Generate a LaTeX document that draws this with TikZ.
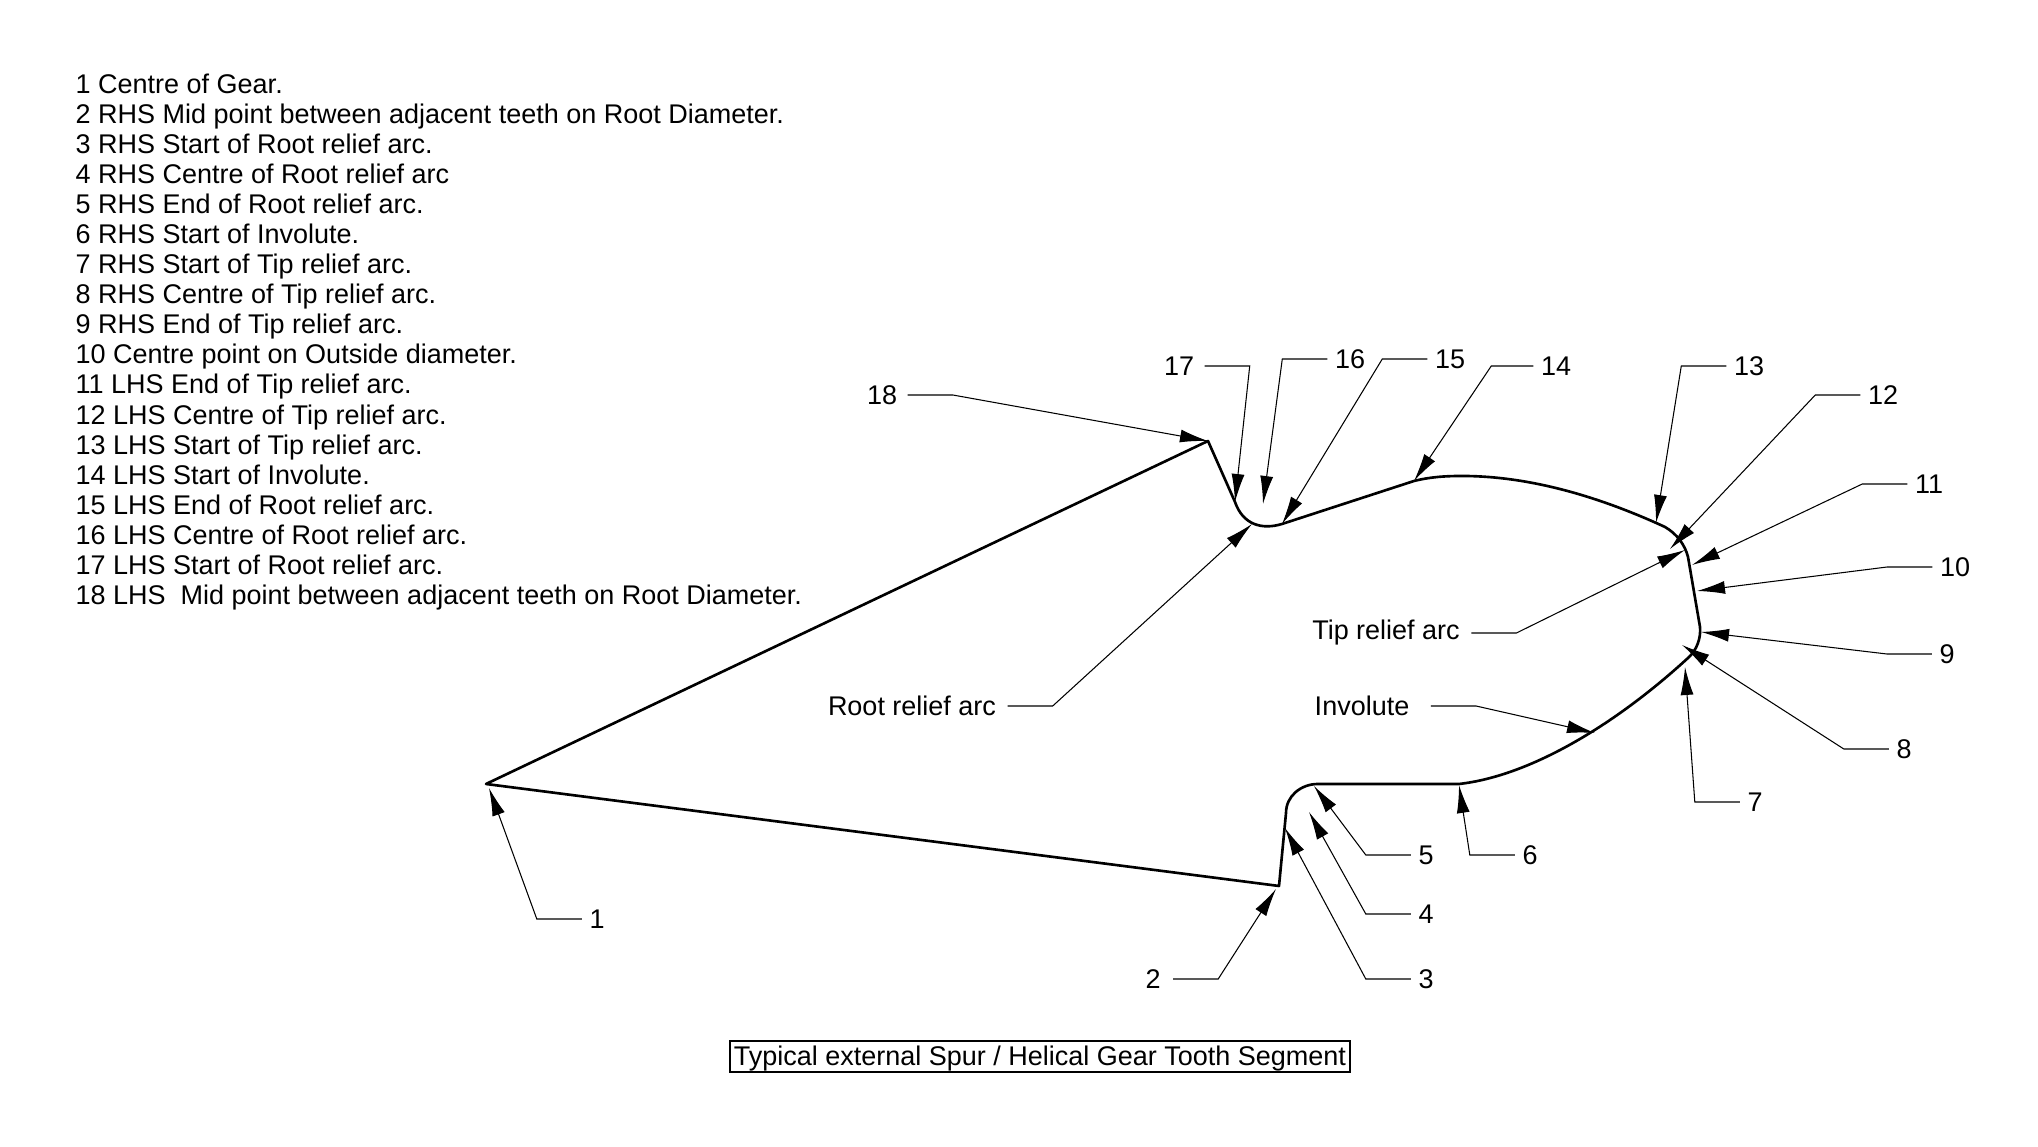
\documentclass[tikz,border=0pt]{standalone}
\usepackage{fontspec}
\setmainfont{Liberation Sans}
\usetikzlibrary{arrows.meta}

\begin{document}
\begin{tikzpicture}[font=\fontsize{7.68pt}{9pt}\selectfont,
        profile/.style={line width=0.75pt, line join=round},
        lead/.style={line width=0.3pt, -{Latex[length=2.8mm,width=1.3mm]}},
        lbl/.style={inner xsep=0.07cm, inner ysep=0pt},
        item/.style={anchor=base west, inner sep=0pt}]
        \useasboundingbox (0,0) rectangle (20.38,11.47);

        \node[item] (item1) at (0.75,10.535) {1 Centre of Gear.};
        \node[item] (item2) at (0.75,10.235) {2 RHS Mid point between adjacent teeth on Root Diameter.};
        \node[item] (item3) at (0.75,9.935) {3 RHS Start of Root relief arc.};
        \node[item] (item4) at (0.75,9.635) {4 RHS Centre of Root relief arc};
        \node[item] (item5) at (0.75,9.335) {5 RHS End of Root relief arc.};
        \node[item] (item6) at (0.75,9.035) {6 RHS Start of Involute.};
        \node[item] (item7) at (0.75,8.735) {7 RHS Start of Tip relief arc.};
        \node[item] (item8) at (0.75,8.435) {8 RHS Centre of Tip relief arc.};
        \node[item] (item9) at (0.75,8.135) {9 RHS End of Tip relief arc.};
        \node[item] (item10) at (0.75,7.835) {10 Centre point on Outside diameter.};
        \node[item] (item11) at (0.75,7.535) {11 LHS End of Tip relief arc.};
        \node[item] (item12) at (0.75,7.225) {12 LHS Centre of Tip relief arc.};
        \node[item] (item13) at (0.75,6.925) {13 LHS Start of Tip relief arc.};
        \node[item] (item14) at (0.75,6.625) {14 LHS Start of Involute.};
        \node[item] (item15) at (0.75,6.325) {15 LHS End of Root relief arc.};
        \node[item] (item16) at (0.75,6.025) {16 LHS Centre of Root relief arc.};
        \node[item] (item17) at (0.75,5.725) {17 LHS Start of Root relief arc.};
        \node[item] (item18) at (0.75,5.425) {18 LHS\ \ Mid point between adjacent teeth on Root Diameter.};

        \coordinate (p1) at (4.89,3.59);
        \coordinate (p2) at (12.76,2.58);
        \coordinate (p3) at (12.85,3.19);
        \coordinate (p4) at (13.09,3.35);
        \coordinate (p5) at (13.14,3.61);
        \coordinate (p6) at (14.59,3.62);
        \coordinate (p7) at (16.85,4.80);
        \coordinate (p8) at (16.82,5.02);
        \coordinate (p9) at (17.01,5.15);
        \coordinate (p10) at (16.97,5.56);
        \coordinate (p11) at (16.92,5.82);
        \coordinate (p12) at (16.70,5.98);
        \coordinate (p13) at (16.56,6.24);
        \coordinate (p14) at (14.14,6.66);
        \coordinate (p15) at (12.82,6.23);
        \coordinate (p16) at (12.63,6.43);
        \coordinate (p17) at (12.35,6.45);
        \coordinate (p18) at (12.08,7.06);
        \coordinate (pRoot) at (12.52,6.23);
        \coordinate (pTip) at (16.85,5.97);
        \coordinate (pInv) at (15.95,4.14);

        \draw[profile] (4.86,3.63) -- (12.79,2.61) -- (12.86,3.34)
            .. controls (12.86,3.51) and (13.01,3.63) .. (13.18,3.63)
            -- (14.59,3.63)
            .. controls (15.30,3.71) and (16.15,4.22) .. (16.88,4.89)
            .. controls (16.97,4.97) and (17.01,5.09) .. (17.00,5.20)
            -- (16.88,5.90)
            .. controls (16.85,6.02) and (16.77,6.13) .. (16.65,6.20)
            .. controls (16.00,6.50) and (15.30,6.71) .. (14.62,6.71)
            .. controls (14.45,6.71) and (14.30,6.70) .. (14.14,6.66)
            -- (12.82,6.23)
            .. controls (12.62,6.17) and (12.43,6.22) .. (12.35,6.45)
            -- (12.08,7.06) -- cycle;

        \node[lbl] (n1) at (5.97,2.28) {1};
        \node[lbl] (n2) at (11.53,1.68) {2};
        \node[lbl] (n3) at (14.26,1.68) {3};
        \node[lbl] (n4) at (14.26,2.33) {4};
        \node[lbl] (n5) at (14.26,2.92) {5};
        \node[lbl] (n6) at (15.30,2.92) {6};
        \node[lbl] (n7) at (17.55,3.45) {7};
        \node[lbl] (n8) at (19.04,3.98) {8};
        \node[lbl] (n9) at (19.47,4.93) {9};
        \node[lbl] (n10) at (19.55,5.80) {10};
        \node[lbl] (n11) at (19.29,6.63) {11};
        \node[lbl] (n12) at (18.83,7.52) {12};
        \node[lbl] (n13) at (17.49,7.81) {13};
        \node[lbl] (n14) at (15.56,7.81) {14};
        \node[lbl] (n15) at (14.50,7.88) {15};
        \node[lbl] (n16) at (13.50,7.88) {16};
        \node[lbl] (n17) at (11.79,7.81) {17};
        \node[lbl] (n18) at (8.82,7.52) {18};
        \node[lbl] (nRoot) at (9.12,4.41) {Root relief arc};
        \node[lbl] (nTip) at (13.86,5.14) {Tip relief arc};
        \node[lbl] (nInv) at (13.62,4.41) {Involute};

        \draw[lead] (n1.west) -- ++(-0.45,0) -- (p1);
        \draw[lead] (n2.east) ++(0.05,0) -- ++(0.45,0) -- (p2);
        \draw[lead] (n3.west) -- ++(-0.45,0) -- (p3);
        \draw[lead] (n4.west) -- ++(-0.45,0) -- (p4);
        \draw[lead] (n5.west) -- ++(-0.45,0) -- (p5);
        \draw[lead] (n6.west) -- ++(-0.45,0) -- (p6);
        \draw[lead] (n7.west) -- ++(-0.45,0) -- (p7);
        \draw[lead] (n8.west) -- ++(-0.45,0) -- (p8);
        \draw[lead] (n9.west) -- ++(-0.45,0) -- (p9);
        \draw[lead] (n10.west) -- ++(-0.45,0) -- (p10);
        \draw[lead] (n11.west) -- ++(-0.45,0) -- (p11);
        \draw[lead] (n12.west) -- ++(-0.45,0) -- (p12);
        \draw[lead] (n13.west) -- ++(-0.45,0) -- (p13);
        \draw[lead] (n14.west) -- ++(-0.42,0) -- (p14);
        \draw[lead] (n15.west) -- ++(-0.45,0) -- (p15);
        \draw[lead] (n16.west) -- ++(-0.45,0) -- (p16);
        \draw[lead] (n17.east) ++(0.03,0) -- ++(0.45,0) -- (p17);
        \draw[lead] (n18.east) ++(0.03,0) -- ++(0.45,0) -- (p18);
        \draw[lead] (nRoot.east) ++(0.04,0) -- ++(0.45,0) -- (pRoot);
        \draw[lead] (nTip.east) ++(0.04,0) -- ++(0.45,0) -- (pTip);
        \draw[lead] (nInv.east) ++(0.14,0) -- ++(0.45,0) -- (pInv);

        \node[draw, line width=0.3pt, minimum width=6.2cm, minimum height=0.31cm, inner sep=0pt, text depth=0.02cm] (caption) at (10.40,0.905) {Typical external Spur / Helical Gear Tooth Segment};
    \end{tikzpicture}
\end{document}
